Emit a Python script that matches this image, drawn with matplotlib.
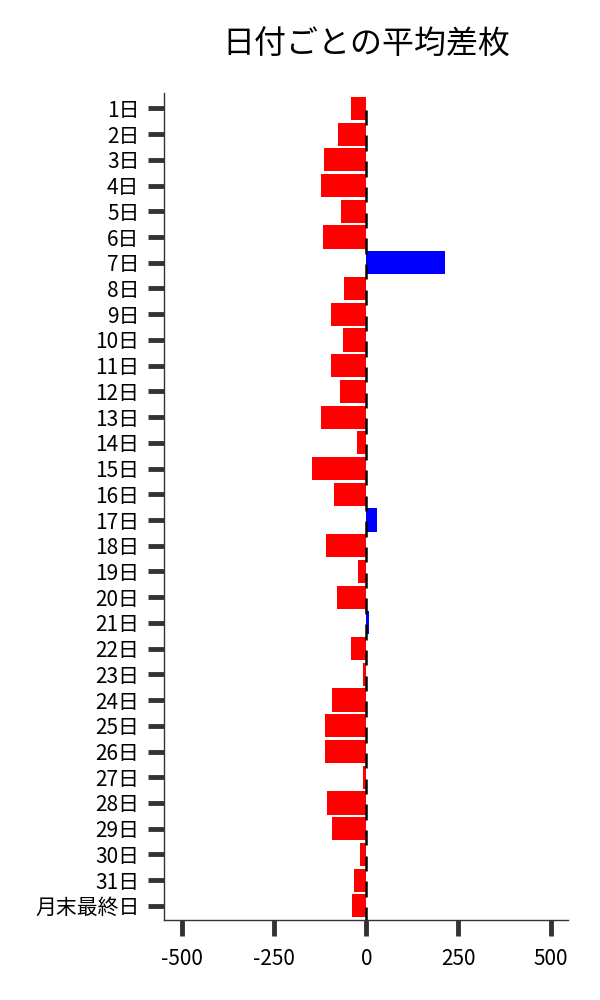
import matplotlib
matplotlib.use("Agg")
import matplotlib.pyplot as plt
import numpy as np

plt.rcParams['font.family'] = ['Noto Sans CJK JP', 'DejaVu Sans']

days = [f"{d}日" for d in range(1, 32)] + ["月末最終日"]
values = [-42, -77, -115, -123, -69, -118, 214, -61, -96, -64,
          -96, -72, -123, -26, -148, -88, 28, -110, -23, -80,
          6, -42, -10, -94, -113, -113, -10, -107, -94, -18,
          -34, -40]
title = "日付ごとの平均差枚"
xticks = [-500, -250, 0, 250, 500]

fig = plt.figure(figsize=(6, 10), dpi=100)
ax = fig.add_axes([0.273, 0.08, 0.674, 0.827])

ypos = np.arange(len(days))
colors = ['#0000ff' if v > 0 else '#ff0000' for v in values]
ax.barh(ypos, values, height=0.9, color=colors, zorder=2)
ax.vlines(np.zeros(len(days)), ypos + 0.05, ypos + 0.65, color='black', lw=1.8, zorder=3)

ax.set_yticks(ypos)
ax.set_yticklabels(days, fontsize=15)
ax.set_xticks(xticks)
ax.set_xticklabels([str(t) for t in xticks], fontsize=15)
ax.set_xlim(-550, 548)
ax.set_ylim(len(days) - 0.45, -0.6)

for s in ['top', 'right']:
    ax.spines[s].set_visible(False)
for s in ['left', 'bottom']:
    ax.spines[s].set_color('#333333')
    ax.spines[s].set_linewidth(1.0)
ax.tick_params(axis='both', length=11.5, width=3.5, color='#333333')
ax.tick_params(axis='x', pad=9)
ax.tick_params(axis='y', pad=6)

ax.set_title(title, fontsize=23, pad=28)

fig.savefig("out.png", dpi=100)
